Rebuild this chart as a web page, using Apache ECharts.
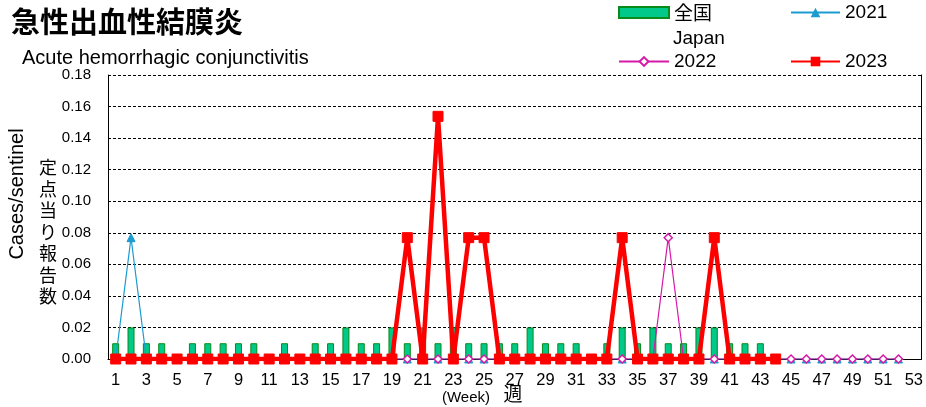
<!DOCTYPE html>
<html><head><meta charset="utf-8">
<script src="https://cdn.jsdelivr.net/npm/echarts@6/dist/echarts.min.js"></script>
<style>html,body{margin:0;padding:0;background:#fff}#c{width:926px;height:407px}</style>
</head><body><div id="c"></div>
<script>
const weeks = ['1','2','3','4','5','6','7','8','9','10','11','12','13','14','15','16','17','18','19','20','21','22','23','24','25','26','27','28','29','30','31','32','33','34','35','36','37','38','39','40','41','42','43','44','45','46','47','48','49','50','51','52','53'];
const japan = [0.01,0.02,0.01,0.01,0,0.01,0.01,0.01,0.01,0.01,
               0,0.01,0,0.01,0.01,0.02,0.01,0.01,0.02,0.01,
               0.02,0.01,0.02,0.01,0.01,0.01,0.01,0.02,0.01,0.01,
               0.01,0,0.01,0.02,0.01,0.02,0.01,0.01,0.02,0.02,
               0.01,0.01,0.01,0];
const y2021 = [0,0.0769,0,0,0,0,0,0,0,0,
               0,0,0,0,0,0,0,0,0,0,
               0,0,0,0,0,0,0,0,0,0,
               0,0,0,0,0,0,0,0,0,0,
               0,0,0,0,0,0,0,0,0,0,
               0,0];
const y2022 = [0,0,0,0,0,0,0,0,0,0,
               0,0,0,0,0,0,0,0,0,0,
               0,0,0,0,0,0,0,0,0,0,
               0,0,0,0,0,0,0.0769,0,0,0,
               0,0,0,0,0,0,0,0,0,0,
               0,0];
const y2023 = [0,0,0,0,0,0,0,0,0,0,
               0,0,0,0,0,0,0,0,0,0.0769,
               0,0.1538,0,0.0769,0.0769,0,0,0,0,0,
               0,0,0,0.0769,0,0,0,0,0,0.0769,
               0,0,0,0];
const yMin = 0, yMax = 0.18, yStep = 0.02;

const LAT = '"Liberation Sans", Arial, sans-serif';
const CJK = '"Noto Sans CJK JP", sans-serif';

const chart = echarts.init(document.getElementById('c'), null, {renderer: 'canvas'});
const legendBase = {
  orient: 'horizontal', itemGap: 0, padding: 0,
  textStyle: {fontFamily: LAT + ',' + CJK, fontSize: 19, color: '#000'},
  selectedMode: false
};
chart.setOption({
  animation: false,
  backgroundColor: '#fff',
  grid: {left: 108, right: 4, top: 75, bottom: 48},
  legend: [
    Object.assign({}, legendBase, {data: [{name: '全国', icon: 'rect'}], left: 618, top: 3, itemWidth: 50, itemHeight: 11,
      textStyle: {fontFamily: CJK, fontSize: 19, color: '#000'}}),
    Object.assign({}, legendBase, {data: ['2021'], left: 790, top: 3, itemWidth: 49, itemHeight: 12}),
    Object.assign({}, legendBase, {data: ['2022'], left: 618, top: 52, itemWidth: 50, itemHeight: 11}),
    Object.assign({}, legendBase, {data: ['2023'], left: 790, top: 52, itemWidth: 49, itemHeight: 12})
  ],
  xAxis: {
    type: 'category', data: weeks, boundaryGap: true,
    axisLine: {show: true, lineStyle: {color: '#000', width: 1}},
    axisTick: {show: false},
    axisLabel: {interval: 1, margin: 13, fontFamily: LAT, fontSize: 16.5, color: '#000'},
    splitLine: {show: false}
  },
  yAxis: [{
    type: 'value', min: yMin, max: yMax, interval: yStep,
    axisLine: {show: true, lineStyle: {color: '#000', width: 1}},
    axisTick: {show: true, inside: true, length: 3, lineStyle: {color: '#000'}},
    axisLabel: {margin: 17, fontFamily: LAT, fontSize: 15, color: '#000', formatter: v => v.toFixed(2)},
    splitLine: {show: true, lineStyle: {color: '#000', type: [3, 2], width: 1}}
  }, {
    type: 'value', min: yMin, max: yMax, interval: yStep, position: 'right',
    axisLine: {show: true, lineStyle: {color: '#000', width: 1}},
    axisTick: {show: false}, axisLabel: {show: false}, splitLine: {show: false}
  }],
  series: [
    {name: '全国', type: 'bar', data: japan, barWidth: 7, z: 1,
     itemStyle: {color: '#00c98a', borderColor: '#0a8a1a', borderWidth: 1}},
    {name: '2021', type: 'line', data: y2021, z: 2,
     symbol: 'triangle', symbolSize: 8, showAllSymbol: true,
     lineStyle: {color: '#1b9bd0', width: 1.2},
     itemStyle: {color: '#1b9bd0', borderColor: '#1b9bd0'}},
    {name: '2022', type: 'line', data: y2022, z: 3,
     symbol: 'diamond', symbolSize: 8, showAllSymbol: true,
     lineStyle: {color: '#d61aa8', width: 1.2},
     itemStyle: {color: '#fff', borderColor: '#d61aa8', borderWidth: 1.5}},
    {name: '2023', type: 'line', data: y2023, z: 4,
     symbol: 'rect', symbolSize: 10, showAllSymbol: true,
     lineStyle: {color: '#ff0000', width: 4.5},
     itemStyle: {color: '#ff0000', borderColor: '#ff0000'}}
  ],
  graphic: [
    {type: 'text', x: 11, y: 22, style: {text: '急性出血性結膜炎', font: 'bold 29px ' + CJK, fill: '#000', verticalAlign: 'middle', align: 'left'}},
    {type: 'text', x: 22, y: 58, style: {text: 'Acute hemorrhagic conjunctivitis', font: '20px ' + LAT, fill: '#000', verticalAlign: 'middle', align: 'left'}},
    {type: 'text', x: 673, y: 39, style: {text: 'Japan', font: '19px ' + LAT, fill: '#000', verticalAlign: 'middle', align: 'left'}},
    {type: 'text', x: 17, y: 194, rotation: Math.PI / 2, style: {text: 'Cases/sentinel', font: '20px ' + LAT, fill: '#000', verticalAlign: 'middle', align: 'center'}},
    {type: 'text', x: 48, y: 232, style: {text: '定\n点\n当\nり\n報\n告\n数', font: '18px ' + CJK, lineHeight: 21.5, fill: '#000', verticalAlign: 'middle', align: 'center'}},
    {type: 'text', x: 466, y: 398, style: {text: '(Week)', font: '15px ' + LAT, fill: '#000', verticalAlign: 'middle', align: 'center'}},
    {type: 'text', x: 513, y: 394, style: {text: '週', font: '19px ' + CJK, fill: '#000', verticalAlign: 'middle', align: 'center'}}
  ]
});
</script></body></html>
